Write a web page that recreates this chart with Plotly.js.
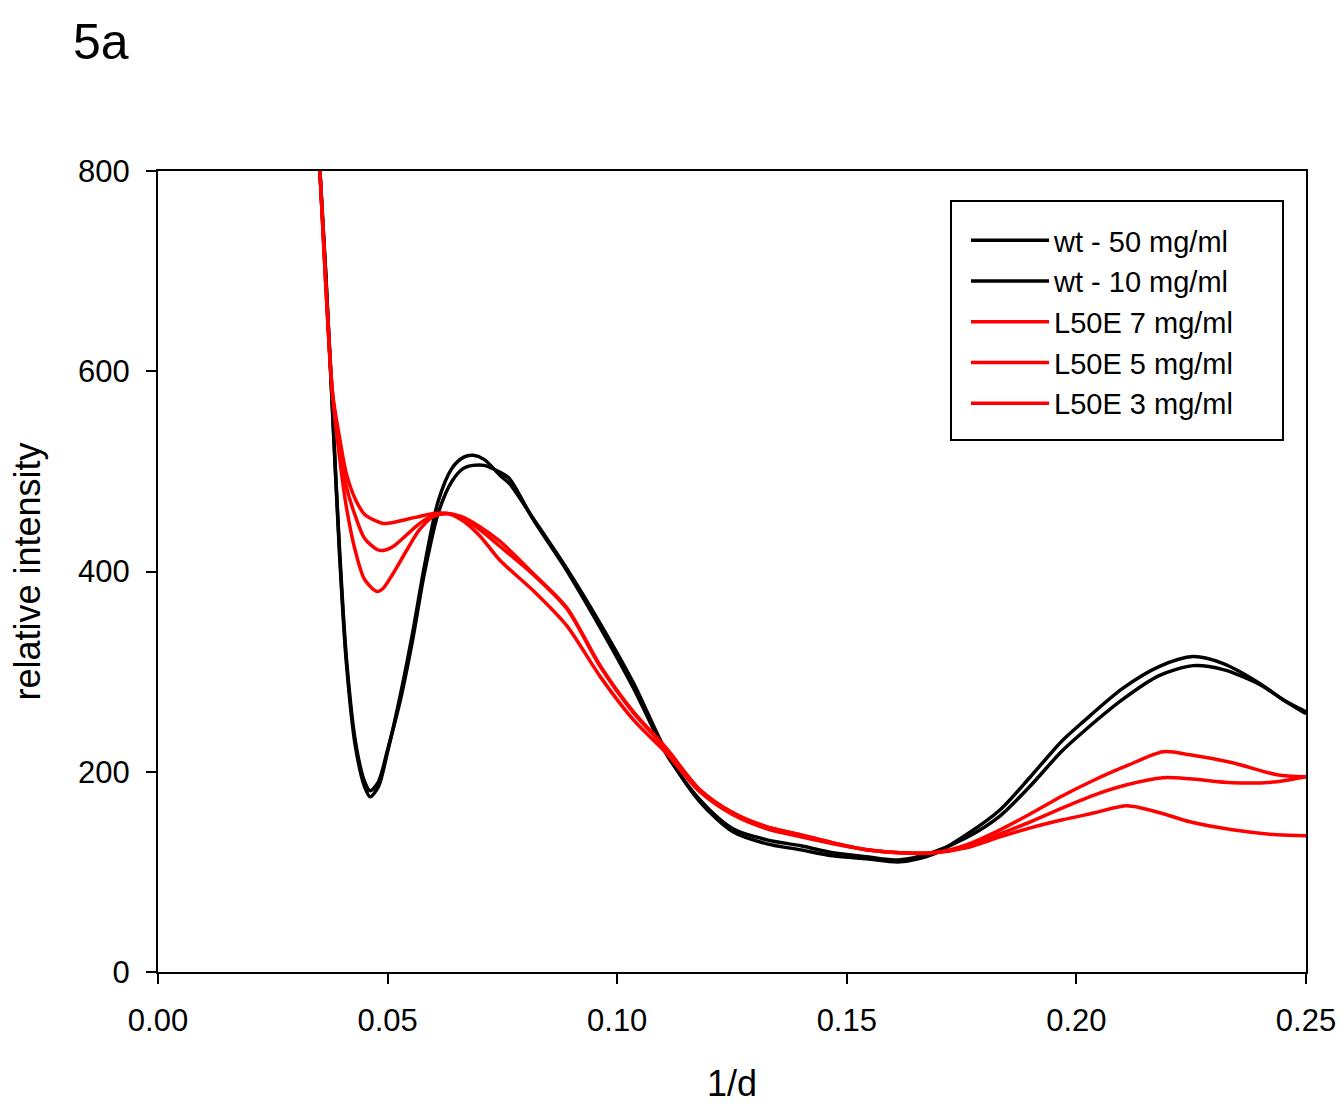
<!DOCTYPE html>
<html>
<head>
<meta charset="utf-8">
<script src="https://cdn.plot.ly/plotly-3.0.1.min.js"></script>
<style>html,body{margin:0;padding:0;background:#fff;}#chart{width:1341px;height:1104px;}</style>
</head>
<body>
<div id="chart"></div>
<script>
// Black (wt) series
const xWt = [0.0352, 0.0365, 0.038, 0.0395, 0.041, 0.043, 0.045, 0.0462, 0.048, 0.050, 0.0527, 0.0555, 0.058, 0.061, 0.064, 0.0665, 0.0686, 0.071, 0.0745, 0.0765, 0.0817, 0.089, 0.0963, 0.1035, 0.1108, 0.118, 0.1252, 0.1326, 0.14, 0.147, 0.1544, 0.1616, 0.169, 0.176, 0.1834, 0.19, 0.1967, 0.2015, 0.21, 0.218, 0.2254, 0.232, 0.24, 0.245, 0.25];
const wt50 = [805, 700, 560, 420, 310, 225, 185, 175, 185, 220, 275, 340, 405, 470, 503, 514, 516, 512, 496, 488, 453, 403, 348, 289, 219, 170, 140, 128, 122, 116, 113, 110, 118, 137, 162, 195, 230, 250, 283, 305, 315, 308, 288, 272, 260];
const wt10 = [805, 700, 562, 425, 315, 230, 190, 181, 190, 222, 270, 333, 398, 458, 490, 503, 506, 506, 499, 493, 452, 401, 344, 284, 217, 172, 143, 132, 126, 119, 115, 112, 120, 134, 156, 186, 220, 240, 272, 296, 306, 302, 287, 272, 258];

// Red (L50E) series
const xL = [0.0352, 0.0365, 0.038, 0.0395, 0.041, 0.043, 0.045, 0.0477, 0.049, 0.0512, 0.054, 0.057, 0.060, 0.063, 0.066, 0.070, 0.0745, 0.0817, 0.089, 0.0963, 0.1035, 0.1108, 0.118, 0.1252, 0.1326, 0.14, 0.147, 0.1544, 0.1616, 0.169, 0.176, 0.1834, 0.19, 0.197, 0.204, 0.211, 0.2189, 0.2247, 0.234, 0.2437, 0.25];
const l50e7 = [805, 690, 578, 515, 465, 420, 392, 380, 383, 398, 420, 442, 455, 458, 454, 442, 425, 397, 363, 305, 259, 222, 182, 159, 145, 137, 129, 122, 119, 119, 127, 142, 158, 176, 192, 206, 220, 217, 209, 197, 195];
const l50e5 = [805, 690, 578, 525, 485, 455, 433, 422, 421, 425, 436, 448, 456, 458, 455, 445, 430, 398, 364, 306, 260, 223, 182, 159, 145, 137, 129, 122, 119, 119, 125, 138, 150, 164, 177, 187, 194, 193, 189, 190, 195];
const l50e3 = [805, 690, 578, 535, 498, 472, 457, 450, 448, 449, 452, 455, 458, 458, 452, 436, 411, 381, 346, 295, 252, 218, 180, 157, 143, 135, 128, 122, 119, 119, 124, 135, 144, 152, 159, 166, 158, 150, 142, 137, 136];

const names = ['wt - 50 mg/ml', 'wt - 10 mg/ml', 'L50E 7 mg/ml', 'L50E 5 mg/ml', 'L50E 3 mg/ml'];
const colors = ['#000000', '#000000', '#ff0000', '#ff0000', '#ff0000'];
const xTicks = [0, 0.05, 0.10, 0.15, 0.20, 0.25];
const xTickText = ['0.00', '0.05', '0.10', '0.15', '0.20', '0.25'];
const yTicks = [0, 200, 400, 600, 800];

const xs = [xWt, xWt, xL, xL, xL];
const ys = [wt50, wt10, l50e7, l50e5, l50e3];

const traces = ys.map((y, i) => ({
  x: xs[i], y: y, name: names[i], type: 'scatter', mode: 'lines',
  line: {color: colors[i], width: 3.5, shape: 'spline', smoothing: 0.8}
}));

const font = 'Arial, "Liberation Sans", sans-serif';
const L = 158, R = 1306, T = 171, B = 972;
const px = v => (v - L) / (R - L);
const py = v => (B - v) / (B - T);

const layout = {
  width: 1341, height: 1104,
  paper_bgcolor: '#fff', plot_bgcolor: '#fff',
  margin: {l: L, r: 1341 - R, t: T, b: 1104 - B},
  font: {family: font, color: '#000'},
  title: {text: '5a', font: {size: 50, family: font, color: '#000'}, xref: 'container', yref: 'container', x: 73/1341, xanchor: 'left', y: 1 - 41/1104, yanchor: 'middle'},
  showlegend: true,
  legend: {x: px(966), y: py(215), xanchor: 'left', yanchor: 'top', bgcolor: 'rgba(0,0,0,0)', borderwidth: 0, font: {size: 29, family: font, color: '#000'}, itemwidth: 78, tracegroupgap: 0, traceorder: 'normal'},
  shapes: [{type: 'rect', xref: 'paper', yref: 'paper', x0: px(951), x1: px(1283), y0: py(440), y1: py(201), line: {color: '#000', width: 2}, fillcolor: 'rgba(0,0,0,0)', layer: 'above'}],
  xaxis: {
    range: [0, 0.25], tickvals: xTicks, ticktext: xTickText, ticks: 'outside', ticklen: 10, tickwidth: 2, tickcolor: '#000',
    showline: true, linecolor: '#000', linewidth: 2, mirror: true, showgrid: false, zeroline: false,
    ticklabelstandoff: 10,
    tickfont: {size: 31, family: font, color: '#000'},
    title: {text: '1/d', font: {size: 36, family: font, color: '#000'}, standoff: 38}
  },
  yaxis: {
    range: [0, 800], tickvals: yTicks, ticks: 'outside', ticklen: 10, tickwidth: 2, tickcolor: '#000',
    showline: true, linecolor: '#000', linewidth: 2, mirror: true, showgrid: false, zeroline: false,
    ticklabelstandoff: 10,
    tickfont: {size: 31, family: font, color: '#000'},
    title: {text: 'relative intensity', font: {size: 36, family: font, color: '#000'}, standoff: 26}
  }
};

Plotly.newPlot('chart', traces, layout, {displayModeBar: false, staticPlot: true});
</script>
</body>
</html>
